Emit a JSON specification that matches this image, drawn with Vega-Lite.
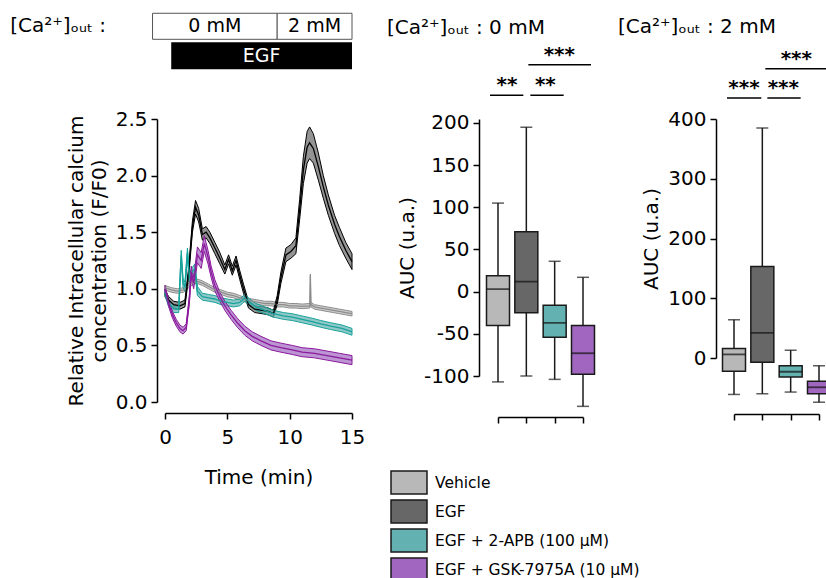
{
"$schema": "https://vega.github.io/schema/vega-lite/v6.json",
"background": "white",
"padding": {"left": 10, "top": 12, "right": 0, "bottom": 0},
"config": {
  "font": "DejaVu Sans",
  "view": {"stroke": null},
  "axis": {"grid": false, "domainColor": "black", "domainWidth": 1.5, "tickColor": "black", "tickWidth": 1.5, "tickSize": 6, "labelFontSize": 20, "labelColor": "black", "labelPadding": 4, "titleFontSize": 20, "titleFontWeight": "normal", "titleColor": "black", "labelFlush": false},
  "title": {"fontSize": 20, "fontWeight": "normal", "anchor": "start", "color": "black", "frame": "group"},
  "legend": {"padding": 0}
},
"datasets": {
  "ts": [
    {"g":"Vehicle","t":0,"m":1.01,"lo":0.99,"hi":1.03},
    {"g":"Vehicle","t":0.5,"m":0.99,"lo":0.97,"hi":1.01},
    {"g":"Vehicle","t":1,"m":0.98,"lo":0.96,"hi":1.0},
    {"g":"Vehicle","t":1.5,"m":0.99,"lo":0.97,"hi":1.01},
    {"g":"Vehicle","t":2,"m":1.04,"lo":1.02,"hi":1.06},
    {"g":"Vehicle","t":2.5,"m":1.07,"lo":1.05,"hi":1.09},
    {"g":"Vehicle","t":3,"m":1.05,"lo":1.03,"hi":1.07},
    {"g":"Vehicle","t":3.5,"m":1.02,"lo":1.0,"hi":1.04},
    {"g":"Vehicle","t":4,"m":0.99,"lo":0.97,"hi":1.01},
    {"g":"Vehicle","t":4.5,"m":0.97,"lo":0.95,"hi":0.99},
    {"g":"Vehicle","t":5,"m":0.95,"lo":0.93,"hi":0.97},
    {"g":"Vehicle","t":5.5,"m":0.94,"lo":0.92,"hi":0.96},
    {"g":"Vehicle","t":6,"m":0.92,"lo":0.9,"hi":0.94},
    {"g":"Vehicle","t":6.5,"m":0.9,"lo":0.88,"hi":0.92},
    {"g":"Vehicle","t":7,"m":0.89,"lo":0.87,"hi":0.91},
    {"g":"Vehicle","t":7.5,"m":0.88,"lo":0.86,"hi":0.9},
    {"g":"Vehicle","t":8,"m":0.87,"lo":0.85,"hi":0.89},
    {"g":"Vehicle","t":8.5,"m":0.87,"lo":0.85,"hi":0.89},
    {"g":"Vehicle","t":9,"m":0.86,"lo":0.84,"hi":0.88},
    {"g":"Vehicle","t":9.5,"m":0.86,"lo":0.84,"hi":0.88},
    {"g":"Vehicle","t":10,"m":0.85,"lo":0.83,"hi":0.87},
    {"g":"Vehicle","t":10.5,"m":0.85,"lo":0.83,"hi":0.87},
    {"g":"Vehicle","t":11,"m":0.845,"lo":0.825,"hi":0.865},
    {"g":"Vehicle","t":11.62,"m":0.85,"lo":0.83,"hi":0.87},
    {"g":"Vehicle","t":11.66,"m":1.12,"lo":0.87,"hi":1.13},
    {"g":"Vehicle","t":11.7,"m":0.86,"lo":0.84,"hi":0.88},
    {"g":"Vehicle","t":12,"m":0.84,"lo":0.82,"hi":0.86},
    {"g":"Vehicle","t":12.5,"m":0.83,"lo":0.81,"hi":0.85},
    {"g":"Vehicle","t":13,"m":0.82,"lo":0.8,"hi":0.84},
    {"g":"Vehicle","t":13.5,"m":0.81,"lo":0.79,"hi":0.83},
    {"g":"Vehicle","t":14,"m":0.8,"lo":0.78,"hi":0.82},
    {"g":"Vehicle","t":14.5,"m":0.79,"lo":0.77,"hi":0.81},
    {"g":"Vehicle","t":15,"m":0.78,"lo":0.76,"hi":0.8},
    {"g":"EGF","t":0,"m":0.96,"lo":0.93,"hi":0.99},
    {"g":"EGF","t":0.3,"m":0.9,"lo":0.87,"hi":0.93},
    {"g":"EGF","t":0.7,"m":0.86,"lo":0.83,"hi":0.89},
    {"g":"EGF","t":1.2,"m":0.85,"lo":0.82,"hi":0.88},
    {"g":"EGF","t":1.6,"m":0.87,"lo":0.84,"hi":0.9},
    {"g":"EGF","t":1.9,"m":1.15,"lo":1.11,"hi":1.19},
    {"g":"EGF","t":2.2,"m":1.55,"lo":1.5,"hi":1.6},
    {"g":"EGF","t":2.45,"m":1.72,"lo":1.66,"hi":1.78},
    {"g":"EGF","t":2.7,"m":1.65,"lo":1.59,"hi":1.71},
    {"g":"EGF","t":3,"m":1.48,"lo":1.43,"hi":1.53},
    {"g":"EGF","t":3.3,"m":1.5,"lo":1.45,"hi":1.55},
    {"g":"EGF","t":3.6,"m":1.45,"lo":1.4,"hi":1.5},
    {"g":"EGF","t":4,"m":1.36,"lo":1.31,"hi":1.41},
    {"g":"EGF","t":4.4,"m":1.27,"lo":1.22,"hi":1.32},
    {"g":"EGF","t":4.8,"m":1.17,"lo":1.13,"hi":1.21},
    {"g":"EGF","t":5.1,"m":1.26,"lo":1.22,"hi":1.3},
    {"g":"EGF","t":5.4,"m":1.16,"lo":1.12,"hi":1.2},
    {"g":"EGF","t":5.7,"m":1.25,"lo":1.21,"hi":1.29},
    {"g":"EGF","t":6,"m":1.12,"lo":1.08,"hi":1.16},
    {"g":"EGF","t":6.3,"m":1.0,"lo":0.96,"hi":1.04},
    {"g":"EGF","t":6.7,"m":0.86,"lo":0.83,"hi":0.89},
    {"g":"EGF","t":7.2,"m":0.82,"lo":0.79,"hi":0.85},
    {"g":"EGF","t":7.8,"m":0.81,"lo":0.78,"hi":0.84},
    {"g":"EGF","t":8.3,"m":0.8,"lo":0.77,"hi":0.83},
    {"g":"EGF","t":8.7,"m":0.78,"lo":0.75,"hi":0.81},
    {"g":"EGF","t":9,"m":0.9,"lo":0.86,"hi":0.94},
    {"g":"EGF","t":9.3,"m":1.1,"lo":1.05,"hi":1.15},
    {"g":"EGF","t":9.7,"m":1.3,"lo":1.24,"hi":1.36},
    {"g":"EGF","t":10.1,"m":1.33,"lo":1.27,"hi":1.39},
    {"g":"EGF","t":10.5,"m":1.38,"lo":1.31,"hi":1.45},
    {"g":"EGF","t":10.8,"m":1.7,"lo":1.61,"hi":1.79},
    {"g":"EGF","t":11.1,"m":2.05,"lo":1.93,"hi":2.17},
    {"g":"EGF","t":11.4,"m":2.25,"lo":2.11,"hi":2.39},
    {"g":"EGF","t":11.6,"m":2.29,"lo":2.15,"hi":2.43},
    {"g":"EGF","t":11.9,"m":2.24,"lo":2.11,"hi":2.37},
    {"g":"EGF","t":12.3,"m":2.08,"lo":1.96,"hi":2.2},
    {"g":"EGF","t":12.7,"m":1.9,"lo":1.8,"hi":2.0},
    {"g":"EGF","t":13.1,"m":1.74,"lo":1.65,"hi":1.83},
    {"g":"EGF","t":13.6,"m":1.57,"lo":1.49,"hi":1.65},
    {"g":"EGF","t":14,"m":1.46,"lo":1.38,"hi":1.54},
    {"g":"EGF","t":14.5,"m":1.34,"lo":1.27,"hi":1.41},
    {"g":"EGF","t":15,"m":1.24,"lo":1.17,"hi":1.31},
    {"g":"EGF + 2-APB (100 μM)","t":0,"m":0.97,"lo":0.94,"hi":1.0},
    {"g":"EGF + 2-APB (100 μM)","t":0.3,"m":0.87,"lo":0.84,"hi":0.9},
    {"g":"EGF + 2-APB (100 μM)","t":0.7,"m":0.82,"lo":0.79,"hi":0.85},
    {"g":"EGF + 2-APB (100 μM)","t":1.1,"m":0.82,"lo":0.79,"hi":0.85},
    {"g":"EGF + 2-APB (100 μM)","t":1.3,"m":1.3,"lo":1.26,"hi":1.34},
    {"g":"EGF + 2-APB (100 μM)","t":1.45,"m":1.05,"lo":1.01,"hi":1.09},
    {"g":"EGF + 2-APB (100 μM)","t":1.6,"m":1.02,"lo":0.98,"hi":1.06},
    {"g":"EGF + 2-APB (100 μM)","t":1.8,"m":1.32,"lo":1.28,"hi":1.36},
    {"g":"EGF + 2-APB (100 μM)","t":1.95,"m":1.1,"lo":1.06,"hi":1.14},
    {"g":"EGF + 2-APB (100 μM)","t":2.2,"m":1.15,"lo":1.11,"hi":1.19},
    {"g":"EGF + 2-APB (100 μM)","t":2.4,"m":1.18,"lo":1.14,"hi":1.22},
    {"g":"EGF + 2-APB (100 μM)","t":2.6,"m":0.98,"lo":0.94,"hi":1.02},
    {"g":"EGF + 2-APB (100 μM)","t":3,"m":0.93,"lo":0.9,"hi":0.96},
    {"g":"EGF + 2-APB (100 μM)","t":3.5,"m":0.92,"lo":0.89,"hi":0.95},
    {"g":"EGF + 2-APB (100 μM)","t":4,"m":0.91,"lo":0.88,"hi":0.94},
    {"g":"EGF + 2-APB (100 μM)","t":4.5,"m":0.89,"lo":0.86,"hi":0.92},
    {"g":"EGF + 2-APB (100 μM)","t":5,"m":0.88,"lo":0.85,"hi":0.91},
    {"g":"EGF + 2-APB (100 μM)","t":5.5,"m":0.87,"lo":0.84,"hi":0.9},
    {"g":"EGF + 2-APB (100 μM)","t":6,"m":0.88,"lo":0.85,"hi":0.91},
    {"g":"EGF + 2-APB (100 μM)","t":6.4,"m":0.92,"lo":0.89,"hi":0.95},
    {"g":"EGF + 2-APB (100 μM)","t":6.8,"m":0.88,"lo":0.85,"hi":0.91},
    {"g":"EGF + 2-APB (100 μM)","t":7.3,"m":0.84,"lo":0.81,"hi":0.87},
    {"g":"EGF + 2-APB (100 μM)","t":8,"m":0.81,"lo":0.78,"hi":0.84},
    {"g":"EGF + 2-APB (100 μM)","t":8.7,"m":0.78,"lo":0.75,"hi":0.81},
    {"g":"EGF + 2-APB (100 μM)","t":9.5,"m":0.76,"lo":0.73,"hi":0.79},
    {"g":"EGF + 2-APB (100 μM)","t":10.2,"m":0.75,"lo":0.72,"hi":0.78},
    {"g":"EGF + 2-APB (100 μM)","t":11,"m":0.73,"lo":0.7,"hi":0.76},
    {"g":"EGF + 2-APB (100 μM)","t":11.8,"m":0.71,"lo":0.68,"hi":0.74},
    {"g":"EGF + 2-APB (100 μM)","t":12.5,"m":0.69,"lo":0.66,"hi":0.72},
    {"g":"EGF + 2-APB (100 μM)","t":13.3,"m":0.67,"lo":0.64,"hi":0.7},
    {"g":"EGF + 2-APB (100 μM)","t":14.2,"m":0.65,"lo":0.62,"hi":0.68},
    {"g":"EGF + 2-APB (100 μM)","t":15,"m":0.62,"lo":0.59,"hi":0.65},
    {"g":"EGF + GSK-7975A (10 μM)","t":0,"m":1.0,"lo":0.97,"hi":1.03},
    {"g":"EGF + GSK-7975A (10 μM)","t":0.3,"m":0.87,"lo":0.84,"hi":0.9},
    {"g":"EGF + GSK-7975A (10 μM)","t":0.6,"m":0.77,"lo":0.74,"hi":0.8},
    {"g":"EGF + GSK-7975A (10 μM)","t":0.9,"m":0.7,"lo":0.67,"hi":0.73},
    {"g":"EGF + GSK-7975A (10 μM)","t":1.2,"m":0.65,"lo":0.62,"hi":0.68},
    {"g":"EGF + GSK-7975A (10 μM)","t":1.45,"m":0.63,"lo":0.6,"hi":0.66},
    {"g":"EGF + GSK-7975A (10 μM)","t":1.7,"m":0.66,"lo":0.63,"hi":0.69},
    {"g":"EGF + GSK-7975A (10 μM)","t":1.95,"m":0.9,"lo":0.86,"hi":0.94},
    {"g":"EGF + GSK-7975A (10 μM)","t":2.1,"m":1.15,"lo":1.1,"hi":1.2},
    {"g":"EGF + GSK-7975A (10 μM)","t":2.3,"m":1.05,"lo":1.0,"hi":1.1},
    {"g":"EGF + GSK-7975A (10 μM)","t":2.6,"m":1.3,"lo":1.23,"hi":1.37},
    {"g":"EGF + GSK-7975A (10 μM)","t":2.9,"m":1.25,"lo":1.18,"hi":1.32},
    {"g":"EGF + GSK-7975A (10 μM)","t":3.15,"m":1.4,"lo":1.33,"hi":1.47},
    {"g":"EGF + GSK-7975A (10 μM)","t":3.45,"m":1.28,"lo":1.22,"hi":1.34},
    {"g":"EGF + GSK-7975A (10 μM)","t":3.7,"m":1.15,"lo":1.1,"hi":1.2},
    {"g":"EGF + GSK-7975A (10 μM)","t":4,"m":1.03,"lo":0.98,"hi":1.08},
    {"g":"EGF + GSK-7975A (10 μM)","t":4.4,"m":0.93,"lo":0.89,"hi":0.97},
    {"g":"EGF + GSK-7975A (10 μM)","t":4.8,"m":0.85,"lo":0.81,"hi":0.89},
    {"g":"EGF + GSK-7975A (10 μM)","t":5.3,"m":0.77,"lo":0.73,"hi":0.81},
    {"g":"EGF + GSK-7975A (10 μM)","t":5.8,"m":0.7,"lo":0.66,"hi":0.74},
    {"g":"EGF + GSK-7975A (10 μM)","t":6.4,"m":0.63,"lo":0.59,"hi":0.67},
    {"g":"EGF + GSK-7975A (10 μM)","t":7,"m":0.58,"lo":0.54,"hi":0.62},
    {"g":"EGF + GSK-7975A (10 μM)","t":7.7,"m":0.54,"lo":0.5,"hi":0.58},
    {"g":"EGF + GSK-7975A (10 μM)","t":8.5,"m":0.5,"lo":0.46,"hi":0.54},
    {"g":"EGF + GSK-7975A (10 μM)","t":9.3,"m":0.48,"lo":0.44,"hi":0.52},
    {"g":"EGF + GSK-7975A (10 μM)","t":10.2,"m":0.46,"lo":0.42,"hi":0.5},
    {"g":"EGF + GSK-7975A (10 μM)","t":11,"m":0.44,"lo":0.4,"hi":0.48},
    {"g":"EGF + GSK-7975A (10 μM)","t":12,"m":0.43,"lo":0.39,"hi":0.47},
    {"g":"EGF + GSK-7975A (10 μM)","t":13,"m":0.41,"lo":0.37,"hi":0.45},
    {"g":"EGF + GSK-7975A (10 μM)","t":14,"m":0.39,"lo":0.35,"hi":0.43},
    {"g":"EGF + GSK-7975A (10 μM)","t":15,"m":0.37,"lo":0.33,"hi":0.41}
  ],
  "protocol": [
    {"row":"Ca","start":-1,"end":9,"label":"0 mM"},
    {"row":"Ca","start":9,"end":15,"label":"2 mM"},
    {"row":"EGF","start":0.5,"end":15,"label":"EGF"}
  ],
  "box1": [
    {"g":"Vehicle","lo":-107,"q1":-40,"med":3,"q3":19,"hi":105},
    {"g":"EGF","lo":-100,"q1":-25,"med":12,"q3":71,"hi":195},
    {"g":"EGF + 2-APB (100 μM)","lo":-104,"q1":-54,"med":-37,"q3":-16,"hi":36},
    {"g":"EGF + GSK-7975A (10 μM)","lo":-136,"q1":-98,"med":-73,"q3":-40,"hi":17}
  ],
  "box2": [
    {"g":"Vehicle","lo":-61,"q1":-22,"med":6,"q3":16,"hi":64},
    {"g":"EGF","lo":-60,"q1":-7,"med":42,"q3":153,"hi":385},
    {"g":"EGF + 2-APB (100 μM)","lo":-57,"q1":-32,"med":-23,"q3":-13,"hi":13},
    {"g":"EGF + GSK-7975A (10 μM)","lo":-74,"q1":-60,"med":-49,"q3":-39,"hi":-13}
  ],
  "sig1": [
    {"from":"Vehicle","to":"EGF","label":"**","side":"L"},
    {"from":"EGF","to":"EGF + 2-APB (100 μM)","label":"**","side":"R"},
    {"from":"EGF","to":"EGF + GSK-7975A (10 μM)","label":"***","side":"T"}
  ],
  "sig2": [
    {"from":"Vehicle","to":"EGF","label":"***","side":"L"},
    {"from":"EGF","to":"EGF + 2-APB (100 μM)","label":"***","side":"R"},
    {"from":"EGF","to":"EGF + GSK-7975A (10 μM)","label":"***","side":"T"}
  ]
},
"spacing": 22,
"resolve": {"scale": {"fill": "shared", "stroke": "independent", "x": "independent", "y": "independent"}},
"hconcat": [
  {
    "width": 187, "height": 283,
    "layer": [
      {"data": {"name": "ts"},
       "mark": {"type": "area", "fillOpacity": 0.7, "strokeWidth": 1},
       "encoding": {
         "x": {"field": "t", "type": "quantitative", "scale": {"domain": [0, 15], "nice": false, "zero": false}, "axis": {"title": "Time (min)", "values": [0, 5, 10, 15], "offset": 11, "labelPadding": 8, "titlePadding": 20}},
         "y": {"field": "lo", "type": "quantitative", "stack": null, "scale": {"domain": [0, 2.5], "nice": false}, "axis": {"title": ["Relative Intracellular calcium", "concentration (F/F0)"], "values": [0, 0.5, 1, 1.5, 2, 2.5], "format": ".1f", "offset": 8, "titlePadding": 6, "titleLineHeight": 23}},
         "y2": {"field": "hi"},
         "fill": {"field": "g", "type": "nominal", "scale": {"domain": ["Vehicle", "EGF", "EGF + 2-APB (100 μM)", "EGF + GSK-7975A (10 μM)"], "range": ["#b8b8b8", "#676767", "#63b1b1", "#a066c0"]}},
         "stroke": {"field": "g", "type": "nominal", "scale": {"domain": ["Vehicle", "EGF", "EGF + 2-APB (100 μM)", "EGF + GSK-7975A (10 μM)"], "range": ["#8c8c8c", "#000000", "#17a39b", "#8b1a9c"]}, "legend": null}
       }},
      {"data": {"name": "ts"},
       "mark": {"type": "line", "strokeWidth": 1.3},
       "encoding": {
         "x": {"field": "t", "type": "quantitative"},
         "y": {"field": "m", "type": "quantitative"},
         "stroke": {"field": "g", "type": "nominal", "legend": null}
       }},
      {"data": {"name": "protocol"},
       "transform": [{"filter": "datum.row === 'Ca'"}],
       "mark": {"type": "rect", "fill": "white", "stroke": "#555555", "strokeWidth": 1},
       "encoding": {
         "x": {"field": "start", "type": "quantitative"},
         "x2": {"field": "end"},
         "y": {"datum": 3.204, "type": "quantitative"},
         "y2": {"datum": 3.434}
       }},
      {"data": {"name": "protocol"},
       "transform": [{"filter": "datum.row === 'Ca'"}, {"calculate": "(datum.start + datum.end) / 2", "as": "mid"}],
       "mark": {"type": "text", "fontSize": 19, "baseline": "middle", "color": "black"},
       "encoding": {
         "x": {"field": "mid", "type": "quantitative"},
         "y": {"datum": 3.319, "type": "quantitative"},
         "text": {"field": "label"}
       }},
      {"data": {"name": "protocol"},
       "transform": [{"filter": "datum.row === 'EGF'"}],
       "mark": {"type": "rect", "fill": "black"},
       "encoding": {
         "x": {"field": "start", "type": "quantitative"},
         "x2": {"field": "end"},
         "y": {"datum": 2.939, "type": "quantitative"},
         "y2": {"datum": 3.178}
       }},
      {"data": {"name": "protocol"},
       "transform": [{"filter": "datum.row === 'EGF'"}, {"calculate": "(datum.start + datum.end) / 2", "as": "mid"}],
       "mark": {"type": "text", "fontSize": 19, "baseline": "middle", "color": "white"},
       "encoding": {
         "x": {"field": "mid", "type": "quantitative"},
         "y": {"datum": 3.058, "type": "quantitative"},
         "text": {"field": "label"}
       }},
      {"data": {"values": [{"label": "[Ca²⁺]ₒᵤₜ :"}]},
       "mark": {"type": "text", "fontSize": 20, "align": "right", "baseline": "middle", "color": "black"},
       "encoding": {
         "x": {"datum": -4.73, "type": "quantitative"},
         "y": {"datum": 3.319, "type": "quantitative"},
         "text": {"field": "label"}
       }}
    ]
  },
  {
    "width": 85, "height": 257,
    "title": {"text": "[Ca²⁺]ₒᵤₜ : 0 mM", "dx": -111, "offset": 7},
    "layer": [
      {"data": {"name": "box1"},
       "mark": {"type": "rule", "color": "#1a1a1a", "strokeWidth": 1.5},
       "encoding": {
         "x": {"field": "g", "type": "nominal", "scale": {"type": "point", "padding": 0, "domain": ["Vehicle", "EGF", "EGF + 2-APB (100 μM)", "EGF + GSK-7975A (10 μM)"]}, "axis": {"title": null, "labels": false, "offset": 41}},
         "y": {"field": "lo", "type": "quantitative", "scale": {"domain": [-100, 204.7], "nice": false, "zero": false}, "axis": {"title": "AUC (u.a.)", "values": [-100, -50, 0, 50, 100, 150, 200], "labelExpr": "'' + datum.value", "offset": 19, "titlePadding": 6}},
         "y2": {"field": "hi"}
       }},
      {"data": {"name": "box1"},
       "mark": {"type": "tick", "color": "#1a1a1a", "size": 12, "thickness": 1.5},
       "encoding": {"x": {"field": "g", "type": "nominal"}, "y": {"field": "lo", "type": "quantitative"}}},
      {"data": {"name": "box1"},
       "mark": {"type": "tick", "color": "#1a1a1a", "size": 12, "thickness": 1.5},
       "encoding": {"x": {"field": "g", "type": "nominal"}, "y": {"field": "hi", "type": "quantitative"}}},
      {"data": {"name": "box1"},
       "mark": {"type": "bar", "size": 23, "stroke": "#1a1a1a", "strokeWidth": 1.5},
       "encoding": {
         "x": {"field": "g", "type": "nominal"},
         "y": {"field": "q1", "type": "quantitative"},
         "y2": {"field": "q3"},
         "fill": {"field": "g", "type": "nominal", "legend": {"orient": "none", "legendX": 229.5, "legendY": 349, "title": null, "direction": "vertical", "symbolType": "M-1.333,-0.85L1.333,-0.85L1.333,0.85L-1.333,0.85Z", "symbolSize": 729, "symbolStrokeColor": "#2a2a2a", "symbolStrokeWidth": 1.5, "symbolOpacity": 1, "labelFontSize": 15.5, "labelColor": "black", "labelOffset": 11.5, "labelLimit": 400, "rowPadding": -1}}
       }},
      {"data": {"name": "box1"},
       "mark": {"type": "tick", "color": "#111111", "size": 23, "thickness": 1.8},
       "encoding": {"x": {"field": "g", "type": "nominal"}, "y": {"field": "med", "type": "quantitative"}}},
      {"data": {"name": "sig1"},
       "transform": [{"filter": "datum.side === 'L'"}],
       "layer": [
         {"mark": {"type": "rule", "color": "black", "strokeWidth": 1.5, "xOffset": -8, "x2Offset": -3},
          "encoding": {"x": {"field": "from", "type": "nominal"}, "x2": {"field": "to"}, "y": {"datum": 233, "type": "quantitative"}}},
         {"mark": {"type": "text", "fontSize": 20, "fontWeight": "bold", "dx": 9, "dy": -10, "color": "black"},
          "encoding": {"x": {"field": "from", "type": "nominal"}, "y": {"datum": 233, "type": "quantitative"}, "text": {"field": "label"}}}
       ]},
      {"data": {"name": "sig1"},
       "transform": [{"filter": "datum.side === 'R'"}],
       "layer": [
         {"mark": {"type": "rule", "color": "black", "strokeWidth": 1.5, "xOffset": 4, "x2Offset": 9},
          "encoding": {"x": {"field": "from", "type": "nominal"}, "x2": {"field": "to"}, "y": {"datum": 233, "type": "quantitative"}}},
         {"mark": {"type": "text", "fontSize": 20, "fontWeight": "bold", "dx": 19, "dy": -10, "color": "black"},
          "encoding": {"x": {"field": "from", "type": "nominal"}, "y": {"datum": 233, "type": "quantitative"}, "text": {"field": "label"}}}
       ]},
      {"data": {"name": "sig1"},
       "transform": [{"filter": "datum.side === 'T'"}],
       "layer": [
         {"mark": {"type": "rule", "color": "black", "strokeWidth": 1.5, "xOffset": 2, "x2Offset": 8},
          "encoding": {"x": {"field": "from", "type": "nominal"}, "x2": {"field": "to"}, "y": {"datum": 269, "type": "quantitative"}}},
         {"mark": {"type": "text", "fontSize": 20, "fontWeight": "bold", "dx": 33, "dy": -10, "color": "black"},
          "encoding": {"x": {"field": "from", "type": "nominal"}, "y": {"datum": 269, "type": "quantitative"}, "text": {"field": "label"}}}
       ]}
    ]
  },
  {
    "width": 85, "height": 239,
    "title": {"text": "[Ca²⁺]ₒᵤₜ : 2 mM", "dx": -116, "offset": 12},
    "layer": [
      {"data": {"name": "box2"},
       "mark": {"type": "rule", "color": "#1a1a1a", "strokeWidth": 1.5},
       "encoding": {
         "x": {"field": "g", "type": "nominal", "scale": {"type": "point", "padding": 0, "domain": ["Vehicle", "EGF", "EGF + 2-APB (100 μM)", "EGF + GSK-7975A (10 μM)"]}, "axis": {"title": null, "labels": false, "offset": 56}},
         "y": {"field": "lo", "type": "quantitative", "scale": {"domain": [0, 400], "nice": false, "zero": false}, "axis": {"title": "AUC (u.a.)", "values": [0, 100, 200, 300, 400], "offset": 18, "titlePadding": 6}},
         "y2": {"field": "hi"}
       }},
      {"data": {"name": "box2"},
       "mark": {"type": "tick", "color": "#1a1a1a", "size": 12, "thickness": 1.5},
       "encoding": {"x": {"field": "g", "type": "nominal"}, "y": {"field": "lo", "type": "quantitative"}}},
      {"data": {"name": "box2"},
       "mark": {"type": "tick", "color": "#1a1a1a", "size": 12, "thickness": 1.5},
       "encoding": {"x": {"field": "g", "type": "nominal"}, "y": {"field": "hi", "type": "quantitative"}}},
      {"data": {"name": "box2"},
       "mark": {"type": "bar", "size": 23, "stroke": "#1a1a1a", "strokeWidth": 1.5},
       "encoding": {
         "x": {"field": "g", "type": "nominal"},
         "y": {"field": "q1", "type": "quantitative"},
         "y2": {"field": "q3"},
         "fill": {"field": "g", "type": "nominal"}
       }},
      {"data": {"name": "box2"},
       "mark": {"type": "tick", "color": "#111111", "size": 23, "thickness": 1.8},
       "encoding": {"x": {"field": "g", "type": "nominal"}, "y": {"field": "med", "type": "quantitative"}}},
      {"data": {"name": "sig2"},
       "transform": [{"filter": "datum.side === 'L'"}],
       "layer": [
         {"mark": {"type": "rule", "color": "black", "strokeWidth": 1.5, "xOffset": -7, "x2Offset": -1},
          "encoding": {"x": {"field": "from", "type": "nominal"}, "x2": {"field": "to"}, "y": {"datum": 435, "type": "quantitative"}}},
         {"mark": {"type": "text", "fontSize": 20, "fontWeight": "bold", "dx": 10, "dy": -10, "color": "black"},
          "encoding": {"x": {"field": "from", "type": "nominal"}, "y": {"datum": 435, "type": "quantitative"}, "text": {"field": "label"}}}
       ]},
      {"data": {"name": "sig2"},
       "transform": [{"filter": "datum.side === 'R'"}],
       "layer": [
         {"mark": {"type": "rule", "color": "black", "strokeWidth": 1.5, "xOffset": 5, "x2Offset": 10},
          "encoding": {"x": {"field": "from", "type": "nominal"}, "x2": {"field": "to"}, "y": {"datum": 435, "type": "quantitative"}}},
         {"mark": {"type": "text", "fontSize": 20, "fontWeight": "bold", "dx": 21, "dy": -10, "color": "black"},
          "encoding": {"x": {"field": "from", "type": "nominal"}, "y": {"datum": 435, "type": "quantitative"}, "text": {"field": "label"}}}
       ]},
      {"data": {"name": "sig2"},
       "transform": [{"filter": "datum.side === 'T'"}],
       "layer": [
         {"mark": {"type": "rule", "color": "black", "strokeWidth": 1.5, "xOffset": 3, "x2Offset": 8},
          "encoding": {"x": {"field": "from", "type": "nominal"}, "x2": {"field": "to"}, "y": {"datum": 484, "type": "quantitative"}}},
         {"mark": {"type": "text", "fontSize": 20, "fontWeight": "bold", "dx": 34, "dy": -10, "color": "black"},
          "encoding": {"x": {"field": "from", "type": "nominal"}, "y": {"datum": 484, "type": "quantitative"}, "text": {"field": "label"}}}
       ]}
    ]
  }
]
}
